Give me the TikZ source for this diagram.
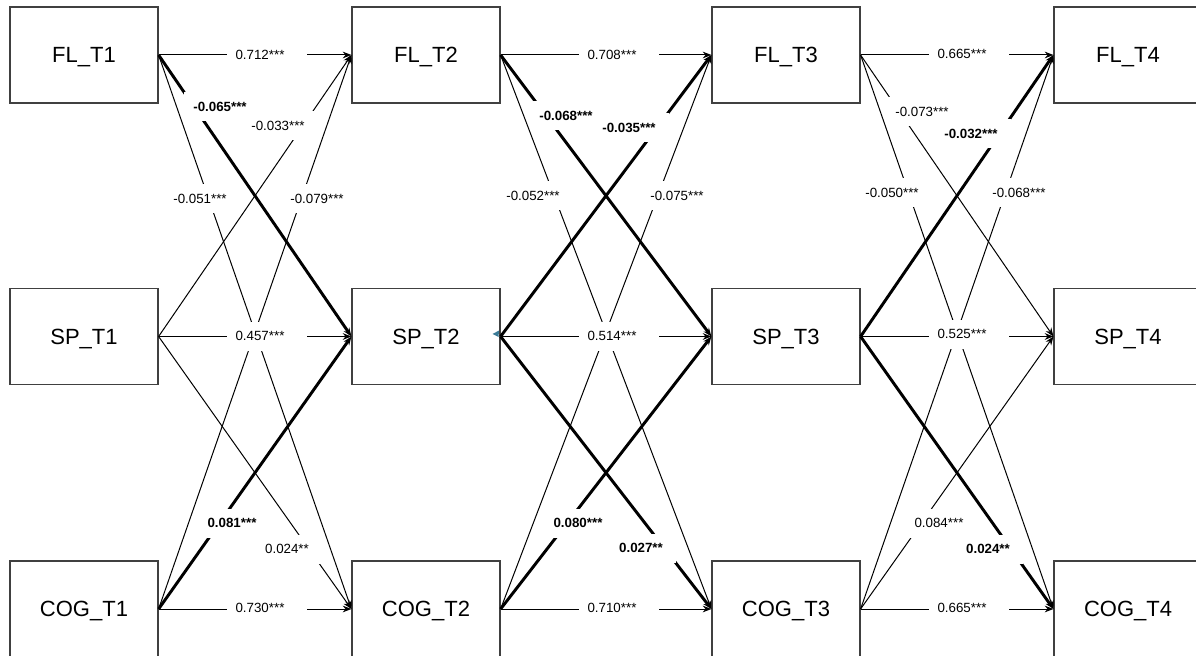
\documentclass[tikz,border=0pt]{standalone}
\usepackage{fontspec}
\setmainfont{Liberation Sans}
\usetikzlibrary{arrows.meta}
\definecolor{boxgray}{RGB}{64,64,64}
\definecolor{marker}{RGB}{58,122,150}
\begin{document}
\begin{tikzpicture}[x=0.75pt,y=-0.75pt,
  var/.style={draw=boxgray, line width=0.9pt, minimum width=111pt, minimum height=72pt,
    inner sep=0pt, text height=11.8pt, text depth=0pt, font=\fontsize{16.5}{20}\selectfont},
  reg/.style={line width=0.75pt, -{Stealth[length=6.5pt,width=5pt]}},
  regb/.style={line width=2.2pt, -{Stealth[length=6.5pt,width=5pt]}},
  lab/.style={fill=white, inner xsep=6.75pt, inner ysep=0pt, minimum height=21.75pt,
    text height=7.4pt, text depth=0pt, font=\fontsize{10}{12}\selectfont,
    execute at end node={\hspace{3pt}}},
  labb/.style={lab, font=\fontsize{10}{12}\selectfont\bfseries},
  hlab/.style={lab, execute at end node={\hspace{7.5pt}}}
]
\useasboundingbox (0,0) rectangle (1196,656);
\clip (0,0) rectangle (1196,656);

% variables at four waves
\node[var] (FL1)  at (84,55)    {FL\_T1};
\node[var] (SP1)  at (84,336.5) {SP\_T1};
\node[var] (COG1) at (84,609)   {COG\_T1};
\node[var] (FL2)  at (426,55)    {FL\_T2};
\node[var] (SP2)  at (426,336.5) {SP\_T2};
\node[var] (COG2) at (426,609)   {COG\_T2};
\node[var] (FL3)  at (786,55)    {FL\_T3};
\node[var] (SP3)  at (786,336.5) {SP\_T3};
\node[var] (COG3) at (786,609)   {COG\_T3};
\node[var] (FL4)  at (1128,55)    {FL\_T4};
\node[var] (SP4)  at (1128,336.5) {SP\_T4};
\node[var] (COG4) at (1128,609)   {COG\_T4};

% wave 1 -> wave 2
\draw[reg]  (FL1.east)  -- (FL2.west);
\draw[regb] (FL1.east)  -- (SP2.west);
\draw[reg]  (FL1.east)  -- (COG2.west);
\draw[reg]  (SP1.east)  -- (FL2.west);
\draw[reg]  (SP1.east)  -- (SP2.west);
\draw[reg]  (SP1.east)  -- (COG2.west);
\draw[reg]  (COG1.east) -- (FL2.west);
\draw[regb] (COG1.east) -- (SP2.west);
\draw[reg]  (COG1.east) -- (COG2.west);

% wave 2 -> wave 3
\draw[reg]  (FL2.east)  -- (FL3.west);
\draw[regb] (FL2.east)  -- (SP3.west);
\draw[reg]  (FL2.east)  -- (COG3.west);
\draw[regb] (SP2.east)  -- (FL3.west);
\draw[reg]  (SP2.east)  -- (SP3.west);
\draw[regb] (SP2.east)  -- (COG3.west);
\draw[reg]  (COG2.east) -- (FL3.west);
\draw[regb] (COG2.east) -- (SP3.west);
\draw[reg]  (COG2.east) -- (COG3.west);

% wave 3 -> wave 4
\draw[reg]  (FL3.east)  -- (FL4.west);
\draw[reg]  (FL3.east)  -- (SP4.west);
\draw[reg]  (FL3.east)  -- (COG4.west);
\draw[regb] (SP3.east)  -- (FL4.west);
\draw[reg]  (SP3.east)  -- (SP4.west);
\draw[regb] (SP3.east)  -- (COG4.west);
\draw[reg]  (COG3.east) -- (FL4.west);
\draw[reg]  (COG3.east) -- (SP4.west);
\draw[reg]  (COG3.east) -- (COG4.west);

% coefficients, wave 1 -> wave 2
\node[hlab] (a1) at (267,55)  {0.712***};
\node[labb] (a2) at (222,107) {-0.065***};
\node[lab]  (a3) at (202,199) {-0.051***};
\node[lab]  (a4) at (280,126) {-0.033***};
\node[hlab] (a5) at (267,336) {0.457***};
\node[lab]  (a6) at (289,549) {0.024**};
\node[lab]  (a7) at (319,199) {-0.079***};
\node[labb] (a8) at (234,523) {0.081***};
\node[hlab] (a9) at (267,608) {0.730***};

% coefficients, wave 2 -> wave 3
\node[hlab] (b1) at (619,55)  {0.708***};
\node[labb] (b2) at (568,116) {-0.068***};
\node[labb] (b3) at (631,128) {-0.035***};
\node[lab]  (b4) at (535,196) {-0.052***};
\node[lab]  (b5) at (679,196) {-0.075***};
\node[hlab] (b6) at (619,336) {0.514***};
\node[labb] (b7) at (580,523) {0.080***};
\node[labb] (b8) at (643,548) {0.027**};
\node[hlab] (b9) at (619,608) {0.710***};

% coefficients, wave 3 -> wave 4
\node[hlab] (c1) at (969,54)   {0.665***};
\node[lab]  (c2) at (924,112)  {-0.073***};
\node[labb] (c3) at (973,134)  {-0.032***};
\node[lab]  (c4) at (894,193)  {-0.050***};
\node[lab]  (c5) at (1021,193) {-0.068***};
\node[hlab] (c6) at (969,334)  {0.525***};
\node[lab]  (c7) at (941,523)  {0.084***};
\node[labb] (c8) at (990,549)  {0.024**};
\node[hlab] (c9) at (969,608)  {0.665***};

% small stray marker on the west side of SP_T2
\fill[marker] (492.5,334) -- (499,330.5) -- (498.5,337) -- cycle;
\end{tikzpicture}
\end{document}
